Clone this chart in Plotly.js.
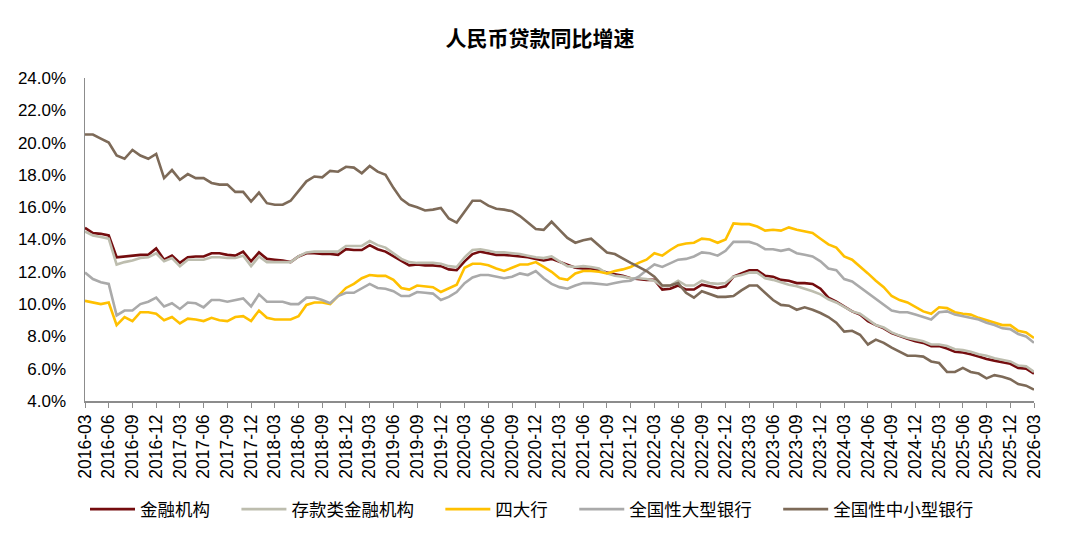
<!DOCTYPE html>
<html>
<head>
<meta charset="utf-8">
<script src="https://cdn.plot.ly/plotly-3.0.1.min.js"></script>
<style>
  html, body { margin: 0; padding: 0; background: #fff; }
  #chart { width: 1080px; height: 542px; }
</style>
</head>
<body>
<div id="chart"></div>
<script>
// months 2016-03 .. 2026-03
var months = [];
for (let y = 2016; y <= 2026; y++) {
    for (let m = 1; m <= 12; m++) {
        if ((y == 2016 && m < 3) || (y == 2026 && m > 3)) continue;
        months.push(y + "-" + (m < 10 ? "0" + m : "" + m));
    }
}
var tickLabels = months.filter(function (d, i) { return i % 3 == 0; });

var names = ["金融机构", "存款类金融机构", "四大行", "全国性大型银行", "全国性中小型银行"];
var colors = ["#740c0e", "#bdbdae", "#ffc000", "#aaaaaa", "#7d6a58"];

var jinrong = [14.72,14.4,14.35,14.25,12.9,12.95,13.0,13.05,13.05,13.45,
    12.75,13.0,12.55,12.9,12.95,12.95,13.15,13.15,13.05,13.0,
    13.25,12.65,13.2,12.8,12.75,12.7,12.6,12.95,13.15,13.15,
    13.1,13.1,13.05,13.4,13.35,13.35,13.65,13.4,13.25,12.95,
    12.65,12.4,12.45,12.4,12.4,12.35,12.15,12.1,12.65,13.1,
    13.25,13.15,13.05,13.05,13.0,12.95,12.9,12.8,12.7,12.8,
    12.6,12.4,12.25,12.2,12.2,12.1,11.95,11.85,11.75,11.6,
    11.55,11.5,11.5,10.9,10.95,11.15,10.9,10.9,11.2,11.1,
    11.0,11.1,11.7,11.9,12.1,12.1,11.75,11.7,11.5,11.45,
    11.3,11.3,11.25,10.95,10.4,10.15,9.85,9.55,9.35,8.95,
    8.7,8.5,8.2,8.0,7.85,7.7,7.6,7.4,7.4,7.25,
    7.05,7.0,6.9,6.75,6.6,6.5,6.4,6.3,6.05,6.0,
    5.7];

var cunkuan = [14.5,14.25,14.15,14.05,12.45,12.6,12.7,12.85,12.9,13.15,
    12.65,12.85,12.35,12.75,12.75,12.75,12.9,12.9,12.85,12.85,
    13.0,12.35,12.95,12.6,12.6,12.6,12.6,12.95,13.2,13.25,
    13.25,13.25,13.25,13.6,13.6,13.6,13.9,13.65,13.5,13.15,
    12.8,12.6,12.55,12.55,12.55,12.5,12.35,12.3,12.9,13.35,
    13.4,13.3,13.2,13.2,13.15,13.1,13.0,12.9,12.85,12.95,
    12.65,12.35,12.3,12.35,12.3,12.2,11.9,11.75,11.7,11.6,
    11.6,11.55,11.45,11.1,11.15,11.45,11.15,11.15,11.45,11.3,
    11.25,11.3,11.7,11.8,11.95,11.95,11.6,11.5,11.35,11.2,
    11.1,10.95,10.8,10.6,10.3,10.1,9.8,9.55,9.4,9.05,
    8.7,8.55,8.25,8.05,7.9,7.8,7.7,7.5,7.5,7.4,
    7.2,7.15,7.05,6.9,6.8,6.65,6.55,6.45,6.2,6.15,
    5.8];

var sidahang = [10.2,10.1,10.0,10.1,8.7,9.2,8.95,9.5,9.5,9.4,
    9.0,9.2,8.8,9.1,9.05,8.95,9.15,9.0,8.95,9.2,
    9.25,8.95,9.6,9.15,9.05,9.05,9.05,9.25,9.95,10.1,
    10.1,10.0,10.5,11.0,11.25,11.6,11.8,11.75,11.75,11.5,
    11.0,10.9,11.15,11.1,11.05,10.75,10.95,11.2,12.25,12.5,
    12.5,12.4,12.2,12.05,12.25,12.45,12.45,12.6,12.3,12.0,
    11.6,11.5,11.9,12.05,12.05,12.0,11.9,12.05,12.15,12.3,
    12.55,12.75,13.15,13.0,13.35,13.65,13.75,13.8,14.05,14.0,
    13.8,14.0,15.0,14.95,14.95,14.8,14.55,14.6,14.55,14.75,
    14.6,14.5,14.4,14.05,13.7,13.5,12.95,12.75,12.35,11.9,
    11.45,11.05,10.5,10.25,10.1,9.85,9.55,9.4,9.8,9.75,
    9.5,9.4,9.35,9.15,9.0,8.85,8.7,8.7,8.35,8.25,
    7.9];

var daxing = [11.95,11.55,11.35,11.25,9.3,9.6,9.6,10.0,10.15,10.4,
    9.85,10.05,9.7,10.1,10.05,9.8,10.25,10.25,10.15,10.25,
    10.35,9.85,10.6,10.15,10.15,10.15,10.0,10.0,10.4,10.4,
    10.25,10.05,10.5,10.7,10.7,11.0,11.25,11.0,10.95,10.8,
    10.5,10.5,10.75,10.7,10.65,10.25,10.45,10.75,11.3,11.65,
    11.8,11.8,11.7,11.6,11.7,11.9,11.8,12.05,11.6,11.25,
    11.05,10.95,11.15,11.3,11.3,11.25,11.2,11.3,11.4,11.45,
    11.7,12.1,12.45,12.3,12.55,12.75,12.8,12.95,13.2,13.15,
    13.0,13.3,13.85,13.85,13.85,13.7,13.4,13.4,13.3,13.4,
    13.15,13.05,12.95,12.65,12.2,12.1,11.55,11.4,11.05,10.7,
    10.35,10.0,9.6,9.5,9.5,9.35,9.2,9.05,9.5,9.55,
    9.35,9.25,9.15,9.05,8.85,8.7,8.5,8.45,8.15,8.0,
    7.6];

var zhongxiao = [20.5,20.5,20.25,20.0,19.2,19.0,19.55,19.2,19.0,19.3,
    17.8,18.3,17.7,18.05,17.8,17.8,17.5,17.4,17.4,16.95,
    16.95,16.35,16.9,16.25,16.15,16.15,16.4,17.0,17.6,17.9,
    17.85,18.25,18.2,18.5,18.45,18.1,18.55,18.2,18.0,17.2,
    16.5,16.15,16.0,15.8,15.85,15.95,15.3,15.05,15.75,16.4,
    16.4,16.1,15.9,15.85,15.75,15.45,15.05,14.65,14.6,15.1,
    14.6,14.1,13.8,13.95,14.05,13.6,13.2,13.1,12.8,12.55,
    12.3,12.05,11.7,11.15,11.15,11.3,10.7,10.4,10.8,10.6,
    10.45,10.45,10.5,10.85,11.15,11.15,10.7,10.25,9.95,9.9,
    9.65,9.8,9.65,9.45,9.2,8.85,8.3,8.35,8.1,7.5,
    7.8,7.6,7.3,7.05,6.8,6.8,6.75,6.45,6.35,5.8,
    5.8,6.05,5.8,5.7,5.4,5.6,5.5,5.35,5.05,4.95,
    4.7];

var series = [jinrong, cunkuan, sidahang, daxing, zhongxiao];

// extra room after each legend label, like the spacing in the original
var legendPad = "\u3000\u00a0";

var data = [];
for (let i = 0; i < series.length; i++) {
    data.push({
        type: "scatter",
        mode: "lines",
        name: names[i] + (i < series.length - 1 ? legendPad : ""),
        x: months,
        y: series[i],
        line: {color: colors[i], width: 2.6},
        hoverinfo: "x+y+name"
    });
}

var cjk = "'Noto Sans CJK SC', 'Liberation Sans', sans-serif";
var latin = "'Liberation Sans', Arial, sans-serif";

var layout = {
    width: 1080,
    height: 542,
    paper_bgcolor: "#ffffff",
    plot_bgcolor: "#ffffff",
    margin: {l: 85, r: 46, t: 78, b: 141},
    title: {
        text: "<b>人民币贷款同比增速</b>",
        font: {family: cjk, size: 21, color: "#000000"},
        x: 0.5, xref: "container", xanchor: "center",
        y: 0.928, yref: "container", yanchor: "middle"
    },
    xaxis: {
        type: "category",
        range: [0, months.length - 1],
        tickmode: "array",
        tickvals: tickLabels,
        ticktext: tickLabels,
        tickangle: -90,
        ticks: "outside",
        ticklen: 5,
        tickcolor: "#8c8c8c",
        showline: true,
        linecolor: "#8c8c8c",
        linewidth: 1.5,
        showgrid: false,
        zeroline: false,
        tickfont: {family: latin, size: 17.5, color: "#000000"}
    },
    yaxis: {
        range: [4, 24],
        dtick: 2,
        tick0: 4,
        tickformat: ".1f",
        ticksuffix: "%",
        ticks: "",
        ticklabelstandoff: 14,
        showline: true,
        linecolor: "#8c8c8c",
        linewidth: 1.5,
        showgrid: false,
        zeroline: false,
        tickfont: {family: latin, size: 17, color: "#000000"}
    },
    showlegend: true,
    legend: {
        orientation: "h",
        x: 0, xanchor: "left",
        y: -0.335, yanchor: "middle",
        font: {family: cjk, size: 17.5, color: "#000000"},
        itemwidth: 45,
        traceorder: "normal"
    }
};

Plotly.newPlot("chart", data, layout, {displayModeBar: false, staticPlot: true});
</script>
</body>
</html>
